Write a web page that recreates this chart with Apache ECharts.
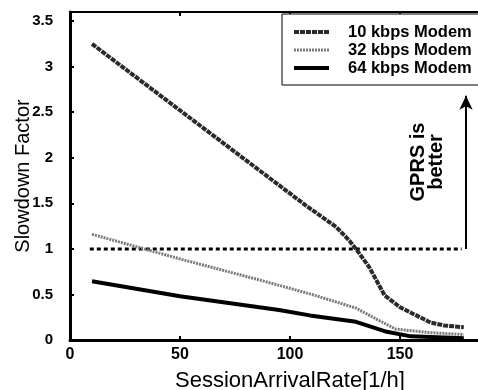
<!DOCTYPE html>
<html>
<head>
<meta charset="utf-8">
<script src="https://cdn.jsdelivr.net/npm/echarts@6/dist/echarts.min.js"></script>
<style>
  html, body { margin: 0; padding: 0; background: #fff; }
  #chart { width: 478px; height: 390px; }
</style>
</head>
<body>
<div id="chart"></div>
<script>
// values
const rate10 = [10, 107, 121, 127, 130, 136, 143, 150, 164, 170, 179];
const slow10 = [3.25, 1.48, 1.24, 1.09, 1.0, 0.80, 0.49, 0.36, 0.19, 0.16, 0.14];
const rate32 = [10, 50, 86, 110, 130, 140, 148, 164, 179];
const slow32 = [1.16, 0.89, 0.66, 0.50, 0.35, 0.22, 0.12, 0.08, 0.06];
const rate64 = [10, 50, 95, 109, 130, 144, 155, 179];
const slow64 = [0.645, 0.48, 0.33, 0.27, 0.20, 0.09, 0.04, 0.02];
const refRate = [9, 178];
const refSlow = [1, 1];
const arrowRate = 180;
const arrowFrom = 1;
const arrowTo = 2.68;
const xTicks = [0, 50, 100, 150];
const yTicks = [0, 0.5, 1, 1.5, 2, 2.5, 3, 3.5];

const pairs = (xs, ys) => xs.map((x, i) => [x, ys[i]]);
const font = "Liberation Sans, Arial, sans-serif";

const chart = echarts.init(document.getElementById("chart"));
const option = {
  animation: false,
  backgroundColor: "#fff",
  // the original figure is cropped on the right: the axis runs on to 200
  grid: { left: 70, right: -32, top: 12, bottom: 50, outerBoundsMode: "none", containLabel: false },
  legend: {
    left: 282,
    top: 14,
    orient: "vertical",
    padding: [9, 20, 8, 10],
    itemGap: 0,
    itemWidth: 35,
    itemHeight: 14,
    backgroundColor: "#fff",
    borderColor: "#000",
    borderWidth: 1,
    itemStyle: { opacity: 0 },
    data: [
      { name: "10 kbps Modem", lineStyle: { width: 4 } },
      { name: "32 kbps Modem", lineStyle: { width: 3 } },
      { name: "64 kbps Modem", lineStyle: { width: 4 } },
    ],
    textStyle: {
      fontFamily: font,
      fontWeight: "bold",
      fontSize: 16.5,
      lineHeight: 18,
      color: "#000",
      padding: [0, 0, 0, 14],
    },
  },
  xAxis: [
    {
      type: "value",
      min: 0,
      max: 200,
      interval: 50,
      name: "SessionArrivalRate[1/h]",
      nameLocation: "middle",
      nameGap: 30,
      nameMoveOverlap: false,
      nameTextStyle: { fontFamily: font, fontSize: 22, color: "#000" },
      splitLine: { show: false },
      axisLine: { lineStyle: { color: "#000", width: 3 } },
      axisTick: { inside: true, length: 4, customValues: xTicks, lineStyle: { color: "#000", width: 2 } },
      axisLabel: {
        customValues: xTicks,
        margin: 7,
        fontFamily: font,
        fontWeight: "bold",
        fontSize: 16,
        color: "#000",
      },
    },
    {
      type: "value",
      position: "top",
      min: 0,
      max: 200,
      interval: 50,
      splitLine: { show: false },
      axisLine: { show: true, lineStyle: { color: "#000", width: 2 } },
      axisTick: { inside: true, length: 4, customValues: [50, 100, 150], lineStyle: { color: "#000", width: 2 } },
      axisLabel: { show: false },
    },
  ],
  yAxis: {
    type: "value",
    min: 0,
    max: 3.6,
    interval: 0.5,
    name: "Slowdown Factor",
    nameLocation: "middle",
    nameGap: 37,
    nameMoveOverlap: false,
    nameTextStyle: { fontFamily: font, fontSize: 20, color: "#000" },
    splitLine: { show: false },
    axisLine: { show: true, lineStyle: { color: "#000", width: 3 } },
    axisTick: { show: true, inside: true, length: 4, customValues: yTicks, lineStyle: { color: "#000", width: 2 } },
    axisLabel: {
      customValues: yTicks,
      margin: 17,
      fontFamily: font,
      fontWeight: "bold",
      fontSize: 15,
      color: "#000",
    },
  },
  graphic: [
    {
      type: "text",
      x: 427,
      y: 162,
      rotation: Math.PI / 2,
      style: {
        text: "GPRS is\nbetter",
        font: "bold 20px " + font,
        fill: "#000",
        align: "center",
        verticalAlign: "middle",
        lineHeight: 18,
      },
    },
  ],
  series: [
    {
      name: "reference",
      type: "line",
      data: pairs(refRate, refSlow),
      symbol: "none",
      lineStyle: { color: "#000", width: 3, type: [4, 3] },
      markLine: {
        silent: true,
        symbol: ["none", "arrow"],
        symbolSize: [10, 14],
        label: { show: false },
        lineStyle: { color: "#000", width: 2, type: "solid" },
        data: [[{ coord: [arrowRate, arrowFrom] }, { coord: [arrowRate, arrowTo] }]],
      },
    },
    {
      name: "10 kbps Modem",
      type: "line",
      data: pairs(rate10, slow10),
      symbol: "none",
      itemStyle: { color: "#2a2a2a" },
      lineStyle: { color: "#2a2a2a", width: 4, type: [5, 1] },
    },
    {
      name: "32 kbps Modem",
      type: "line",
      data: pairs(rate32, slow32),
      symbol: "none",
      itemStyle: { color: "#7a7a7a" },
      lineStyle: { color: "#7a7a7a", width: 3, type: [2, 1] },
    },
    {
      name: "64 kbps Modem",
      type: "line",
      data: pairs(rate64, slow64),
      symbol: "none",
      itemStyle: { color: "#000" },
      lineStyle: { color: "#000", width: 4 },
    },
  ],
};
chart.setOption(option);
</script>
</body>
</html>
